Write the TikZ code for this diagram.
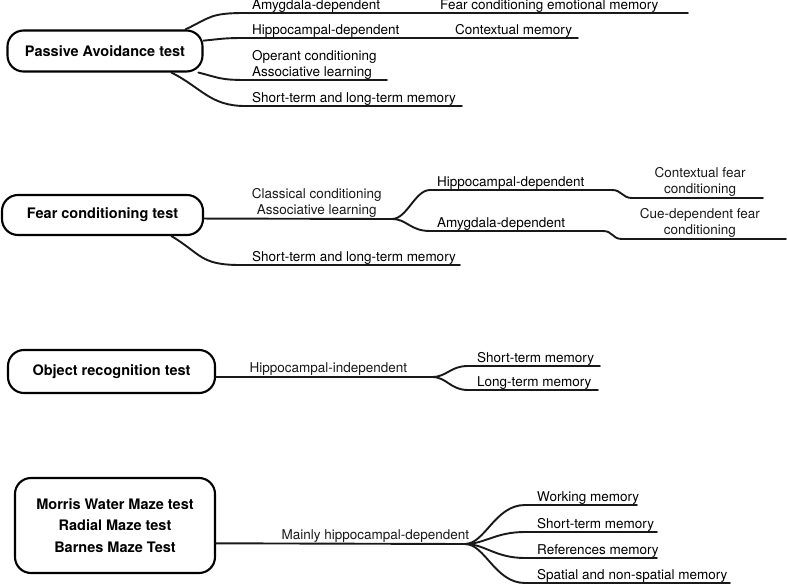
\documentclass[tikz,border=0pt]{standalone}
\usepackage{fontspec}
\setmainfont{TeX Gyre Heros}
\usetikzlibrary{positioning}
\tikzstyle{branch} = [line width=1.9pt, line cap=round, color=black!90]
\tikzstyle{testbox} = [draw, line width=2.1pt, rounded corners=16pt, align=center, font=\fontsize{14.5}{21.5}\selectfont\bfseries]
\tikzstyle{leaf} = [inner sep=0pt, text height=10pt, text depth=3.5pt, font=\fontsize{13.5}{16}\selectfont]

\begin{document}
\begin{tikzpicture}[x=1pt, y=-1pt,
        twoline/.style={align=left, text height=},
        midlbl/.style={leaf, above, align=center}
    ]
        \useasboundingbox (0,0) rectangle (787,585);

        % Passive avoidance
        \node[testbox, minimum width=195, minimum height=41] (passive) at (105,51) {Passive Avoidance test};
        \coordinate (amyS) at (245,13);  \coordinate (amyE) at (688,13);
        \coordinate (hipS) at (245,38);  \coordinate (hipE) at (578,38);
        \coordinate (opS) at (245,80);   \coordinate (opE) at (387,80);
        \coordinate (stmS) at (245,106); \coordinate (stmE) at (462,106);
        \draw[branch] (passive.15) .. controls +(25,-12) and +(-35,0) .. (amyS) -- (amyE);
        \draw[branch] (passive.6) .. controls +(20,-2) and +(-20,0) .. (hipS) -- (hipE);
        \draw[branch] (passive.-13) .. controls +(20,5) and +(-25,0) .. (opS) -- (opE);
        \draw[branch] (passive.-18) .. controls +(30,15) and +(-35,0) .. (stmS) -- (stmE);
        \node[leaf, above right=0pt and 7pt of amyS] (amy) {Amygdala-dependent};
        \node[leaf, above right=0pt and 195pt of amyS] (fearemo) {Fear conditioning emotional memory};
        \node[leaf, above right=0pt and 7pt of hipS] (hip) {Hippocampal-dependent};
        \node[leaf, above right=0pt and 210pt of hipS] (ctx) {Contextual memory};
        \node[leaf, twoline, above right=0pt and 7pt of opS] (operant) {Operant conditioning\\Associative learning};
        \node[leaf, above right=0pt and 7pt of stmS] (stm) {Short-term and long-term memory};

        % Fear conditioning
        \node[testbox, minimum width=201, minimum height=40] (fear) at (102.5,215) {Fear conditioning test};
        \coordinate (forkA) at (392,219);
        \coordinate (hipA) at (430,190);  \coordinate (hipB) at (612,190);
        \coordinate (hipC) at (632,198);  \coordinate (hipD) at (763,198);
        \coordinate (amyA) at (430,231);  \coordinate (amyB) at (603,231);
        \coordinate (amyC) at (622,239);  \coordinate (amyD) at (786,239);
        \coordinate (stmF) at (240,265);  \coordinate (stmG) at (460,265);
        \draw[branch] (fear.-2) -- node[midlbl, pos=0.6] (classical) {Classical conditioning\\Associative learning} (forkA);
        \draw[branch] (forkA) .. controls +(15,0) and +(-15,0) .. (hipA) -- (hipB)
            .. controls +(10,0) and +(-10,0) .. (hipC) -- node[midlbl, pos=0.52] (ctxfear) {Contextual fear\\conditioning} (hipD);
        \draw[branch] (forkA) .. controls +(15,0) and +(-20,0) .. (amyA) -- (amyB)
            .. controls +(10,0) and +(-10,0) .. (amyC) -- node[midlbl, pos=0.475] (cuefear) {Cue-dependent fear\\conditioning} (amyD);
        \draw[branch] (fear.-17) .. controls +(30,18) and +(-40,0) .. (stmF) -- (stmG);
        \node[leaf, above right=0pt and 7pt of hipA] (hip2) {Hippocampal-dependent};
        \node[leaf, above right=0pt and 7pt of amyA] (amy2) {Amygdala-dependent};
        \node[leaf, above right=0pt and 12pt of stmF] (stm2) {Short-term and long-term memory};

        % Object recognition
        \node[testbox, minimum width=207, minimum height=43] (object) at (111.5,371.5) {Object recognition test};
        \coordinate (forkB) at (432,377);
        \coordinate (shortA) at (468,366); \coordinate (shortB) at (600,366);
        \coordinate (longA) at (468,390);  \coordinate (longB) at (598,390);
        \draw[branch] (object.-3) -- node[midlbl, pos=0.52] (hipind) {Hippocampal-independent} (forkB);
        \draw[branch] (forkB) .. controls +(15,0) and +(-18,0) .. (shortA) -- (shortB);
        \draw[branch] (forkB) .. controls +(15,0) and +(-18,0) .. (longA) -- (longB);
        \node[leaf, above right=0pt and 9pt of shortA] (short) {Short-term memory};
        \node[leaf, above right=0pt and 9pt of longA] (long) {Long-term memory};

        % Mazes
        \node[testbox, minimum width=200, minimum height=95] (maze) at (115,525.5) {Morris Water Maze test\\Radial Maze test\\Barnes Maze Test};
        \coordinate (forkC) at (465,544);
        \coordinate (workA) at (525,505);  \coordinate (workB) at (637,505);
        \coordinate (shrtA) at (525,532);  \coordinate (shrtB) at (657,532);
        \coordinate (refA) at (525,558);   \coordinate (refB) at (657,558);
        \coordinate (spatA) at (525,583);  \coordinate (spatB) at (730,583);
        \draw[branch] (maze.-10) -- node[midlbl, pos=0.64] (mainly) {Mainly hippocampal-dependent} (forkC);
        \foreach \a/\b in {workA/workB, shrtA/shrtB, refA/refB, spatA/spatB}
            \draw[branch] (forkC) .. controls +(20,0) and +(-30,0) .. (\a) -- (\b);
        \node[leaf, above right=0pt and 12pt of workA] (work) {Working memory};
        \node[leaf, above right=0pt and 12pt of shrtA] (shrt) {Short-term memory};
        \node[leaf, above right=0pt and 12pt of refA] (refs) {References memory};
        \node[leaf, above right=0pt and 12pt of spatA] (spat) {Spatial and non-spatial memory};
    \end{tikzpicture}
\end{document}
